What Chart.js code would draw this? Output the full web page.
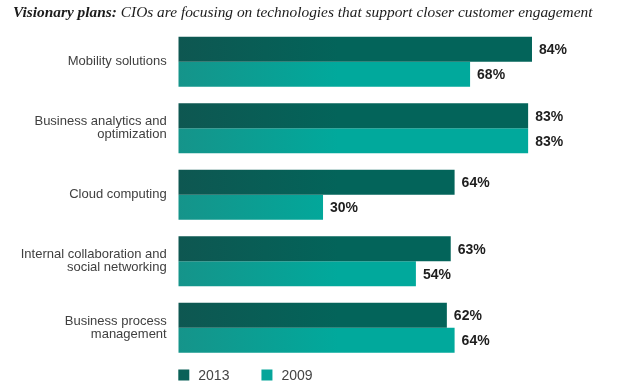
<!doctype html>
<html lang="en">

<head>
  <meta charset="utf-8">
  <title>Visionary plans</title>
  <style>
    html,
    body {
      margin: 0;
      padding: 0;
      background: #fff;
    }
  </style>
</head>

<body>
  <canvas id="chart" width="621" height="390"></canvas>

  <script src="https://cdn.jsdelivr.net/npm/chart.js"></script>
  <script>
    // Daten
    const categories = [
      ["Mobility solutions"],
      ["Business analytics and", "optimization"],
      ["Cloud computing"],
      ["Internal collaboration and", "social networking"],
      ["Business process", "management"]
    ];
    const seriesNames = ["2013", "2009"];
    const values2013 = [84, 83, 64, 63, 62];
    const values2009 = [68, 83, 30, 54, 64];

    // the bars in the original do not start at 0
    const xMin = -7.4;
    const xMax = 107;

    const titleBold = "Visionary plans:";
    const titleRest = " CIOs are focusing on technologies that support closer customer engagement";

    const sansFont = '"Liberation Sans", Arial, sans-serif';
    const serifFont = '"Liberation Serif", "Times New Roman", serif';

    const solid2013 = "#0b6158";
    const solid2009 = "#06a59a";

    function barGradient(context, left, right) {
      const area = context.chart.chartArea;
      if (!area) return right;
      const g = context.chart.ctx.createLinearGradient(area.left, 0, area.left + 160, 0);
      g.addColorStop(0, left);
      g.addColorStop(1, right);
      return g;
    }

    // Titel oben
    const titlePlugin = {
      id: "titlePlugin",
      afterDraw(chart) {
        const ctx = chart.ctx;
        ctx.save();
        ctx.fillStyle = "#1c1c1c";
        ctx.textBaseline = "alphabetic";
        let size = 16;
        ctx.font = "italic bold " + size + "px " + serifFont;
        let w1 = ctx.measureText(titleBold).width;
        ctx.font = "italic " + size + "px " + serifFont;
        let w2 = ctx.measureText(titleRest).width;
        // auf die Breite des Originals bringen
        size = size * 580 / (w1 + w2);
        ctx.font = "italic bold " + size + "px " + serifFont;
        w1 = ctx.measureText(titleBold).width;
        ctx.fillText(titleBold, 13, 17);
        ctx.font = "italic " + size + "px " + serifFont;
        ctx.fillText(titleRest, 13 + w1, 17);
        ctx.restore();
      }
    };

    // Prozentwerte hinter den Balken
    const valueLabels = {
      id: "valueLabels",
      afterDatasetsDraw(chart) {
        const ctx = chart.ctx;
        ctx.save();
        ctx.font = "bold 14px " + sansFont;
        ctx.fillStyle = "#1e1e1e";
        ctx.textBaseline = "middle";
        chart.data.datasets.forEach((ds, i) => {
          chart.getDatasetMeta(i).data.forEach((bar, j) => {
            ctx.fillText(ds.data[j] + "%", bar.x + 7, bar.y + 1);
          });
        });
        ctx.restore();
      }
    };

    // Legende unten links
    const bottomLegend = {
      id: "bottomLegend",
      afterDraw(chart) {
        const ctx = chart.ctx;
        const colors = [solid2013, solid2009];
        let x = chart.chartArea.left;
        const y = 375;
        ctx.save();
        ctx.font = "14px " + sansFont;
        ctx.textBaseline = "middle";
        seriesNames.forEach((name, i) => {
          ctx.fillStyle = colors[i];
          ctx.fillRect(x, y - 5.5, 11, 11);
          ctx.fillStyle = "#444";
          ctx.fillText(name, x + 20, y + 1);
          x += 20 + ctx.measureText(name).width + 32;
        });
        ctx.restore();
      }
    };

    const data = {
      labels: categories,
      datasets: [{
          label: seriesNames[0],
          data: values2013,
          base: xMin,
          backgroundColor: (c) => barGradient(c, "#0e5751", "#03645a"),
          categoryPercentage: 0.752,
          barPercentage: 1
        },
        {
          label: seriesNames[1],
          data: values2009,
          base: xMin,
          backgroundColor: (c) => barGradient(c, "#15948a", "#01a99c"),
          categoryPercentage: 0.752,
          barPercentage: 1
        }
      ]
    };

    const config = {
      type: "bar",
      data,
      options: {
        indexAxis: "y",
        responsive: false,
        animation: false,
        layout: {
          padding: { top: 28.5, bottom: 29, left: 0, right: 0 }
        },
        plugins: {
          legend: { display: false },
          tooltip: { enabled: false }
        },
        scales: {
          x: {
            display: false,
            min: xMin,
            max: xMax
          },
          y: {
            grid: { display: false, drawTicks: false },
            border: { display: false },
            ticks: {
              color: "#404040",
              padding: 11.6,
              font: { family: sansFont, size: 13, lineHeight: 1 }
            },
            afterFit(scale) {
              scale.width = 178.3;
            }
          }
        }
      },
      plugins: [titlePlugin, valueLabels, bottomLegend]
    };

    new Chart(document.getElementById("chart"), config);
  </script>
</body>

</html>
